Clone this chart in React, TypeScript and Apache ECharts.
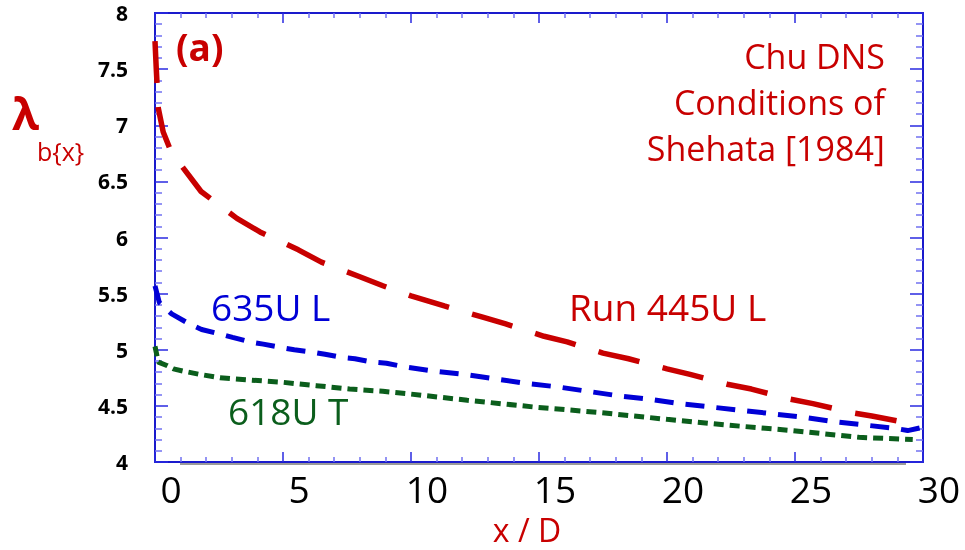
import React, { useEffect, useRef } from "react";
import * as echarts from "echarts";

// ---- data (x/D, lambda_b{x}) ----
const redX = [0, 0.05, 0.13, 0.32, 0.6, 1.1, 1.8, 3.2, 4.1, 5.6, 6.5, 8.0, 8.9, 10.0, 11.3, 12.8, 13.7, 15.2, 16.1, 17.5, 18.5, 20.0, 20.9, 22.4, 23.3, 24.8, 25.7, 27.2, 28.0, 29.6];
const redY = [7.75, 7.5, 7.15, 6.94, 6.78, 6.62, 6.41, 6.17, 6.05, 5.89, 5.78, 5.65, 5.57, 5.48, 5.39, 5.29, 5.23, 5.12, 5.07, 4.97, 4.92, 4.83, 4.78, 4.69, 4.65, 4.56, 4.52, 4.44, 4.41, 4.34];

const blueX = [0, 0.17, 0.65, 1.34, 1.82, 2.54, 3.03, 3.71, 4.23, 4.92, 5.44, 6.12, 6.64, 7.33, 7.81, 8.5, 9.04, 9.7, 10.9, 12.1, 13.3, 14.5, 15.7, 16.9, 18.1, 19.3, 20.5, 21.7, 22.9, 24.1, 25.3, 26.5, 27.7, 28.9, 29.4, 30];
const blueY = [5.57, 5.42, 5.32, 5.23, 5.18, 5.14, 5.11, 5.07, 5.05, 5.02, 5.0, 4.98, 4.96, 4.93, 4.92, 4.89, 4.88, 4.85, 4.81, 4.78, 4.74, 4.7, 4.67, 4.63, 4.59, 4.56, 4.52, 4.49, 4.46, 4.43, 4.4, 4.36, 4.33, 4.3, 4.28, 4.31];

const greenX = [0, 0.13, 0.46, 0.72, 1.1, 1.76, 2.54, 3.71, 5.0, 6.3, 7.6, 8.9, 9.8, 12.2, 14.8, 17.4, 20.0, 22.3, 24.9, 27.5, 29.6];
const greenY = [5.03, 4.89, 4.86, 4.83, 4.81, 4.78, 4.75, 4.73, 4.71, 4.68, 4.65, 4.63, 4.61, 4.55, 4.49, 4.44, 4.38, 4.33, 4.28, 4.22, 4.2];

const xRange = [0, 30];
const yRange = [4, 8];
const xStep = 5;
const yStep = 0.5;

const seriesNames = ["Run 445U L", "635U L", "618U T"];
const noteLines = ["Chu DNS", "Conditions of", "Shehata [1984]"];

const RED = "#c80000";
const BLUE = "#0000d6";
const GREEN = "#0b5e1c";
const FONT = "'Open Sans', 'DejaVu Sans', sans-serif";

function pairs(xs: number[], ys: number[]) {
  return xs.map((x, i) => [x, ys[i]]);
}

export default function App() {
  const ref = useRef<HTMLDivElement>(null);
  useEffect(() => {
    if (!ref.current) return;
    const chart = echarts.init(ref.current, undefined, { renderer: "svg" });
    const axisLine = { show: true, onZero: false, lineStyle: { color: "#1a1acc", width: 2 } };
    const xTick = { show: true, inside: true, length: 10, lineStyle: { color: "#2a2ae0", width: 1.5 } };
    const xMinor = { show: true, splitNumber: 5, length: 5, lineStyle: { color: "#7070f0", width: 1.5 } };
    const yTick = { show: true, inside: true, length: 13, lineStyle: { color: "#2a2ae0", width: 1.5 } };
    const yMinor = { show: true, splitNumber: 5, length: 7, lineStyle: { color: "#7070f0", width: 1.5 } };
    const baseX = { type: "value", min: xRange[0], max: xRange[1], interval: xStep, axisLine, axisTick: xTick, minorTick: xMinor, splitLine: { show: false }, minorSplitLine: { show: false } };
    const baseY = { type: "value", min: yRange[0], max: yRange[1], interval: yStep, axisLine, axisTick: yTick, minorTick: yMinor, splitLine: { show: false }, minorSplitLine: { show: false } };

    const text = (t: string, x: number, y: number, fill: string, size: number, align = "left", weight = "normal", vAlign = "middle") => ({
      type: "text",
      x,
      y,
      style: { text: t, fill, align, verticalAlign: vAlign, font: `${weight} ${size}px ${FONT}` },
    });

    chart.setOption({
      animation: false,
      grid: { left: 155, right: 42, top: 13, bottom: 88 },
      xAxis: [
        {
          ...baseX,
          position: "bottom",
          axisLabel: { color: "#000", fontSize: 37, fontFamily: FONT, margin: 8, padding: [0, 0, 0, 32] },
        },
        { ...baseX, position: "top", axisLabel: { show: false } },
      ],
      yAxis: [
        {
          ...baseY,
          position: "left",
          axisLabel: { color: "#000", fontSize: 21, fontWeight: "bold", fontFamily: FONT, margin: 27, padding: [10, 0, 0, 0] },
        },
        { ...baseY, position: "right", axisLabel: { show: false } },
      ],
      series: [
        {
          name: seriesNames[0], type: "line", data: pairs(redX, redY), symbol: "none", clip: false, z: 3,
          lineStyle: { color: RED, width: 5.5, type: [42, 24], cap: "butt" },
        },
        {
          name: seriesNames[1], type: "line", data: pairs(blueX, blueY), symbol: "none", clip: false, z: 3,
          lineStyle: { color: BLUE, width: 5, type: [19, 12], cap: "butt" },
        },
        {
          name: seriesNames[2], type: "line", data: pairs(greenX, greenY), symbol: "none", clip: false, z: 3,
          lineStyle: { color: GREEN, width: 5, type: [10, 6], cap: "butt" },
        },
      ],
      graphic: [
        { type: "line", shape: { x1: 180, y1: 464, x2: 906, y2: 464 }, style: { stroke: "#9a9a9a", lineWidth: 2 }, z: 1 },
        text("(a)", 176, 46, RED, 37, "left", "bold"),
        text(noteLines[0], 885, 56, RED, 34, "right"),
        text(noteLines[1], 885, 102, RED, 34, "right"),
        text(noteLines[2], 885, 148, RED, 34, "right"),
        text(seriesNames[1], 211, 306, BLUE, 37),
        text(seriesNames[2], 228, 410, GREEN, 37),
        text(seriesNames[0], 569, 306, RED, 37),
        text("λ", 12, 113, RED, 44, "left", "bold"),
        text("b{x}", 37, 151, RED, 25),
        text("x / D", 527, 545, RED, 32, "center", "normal", "bottom"),
      ],
    });
    return () => chart.dispose();
  }, []);
  return <div ref={ref} style={{ position: "fixed", left: 0, top: 0, width: 965, height: 550 }} />;
}
